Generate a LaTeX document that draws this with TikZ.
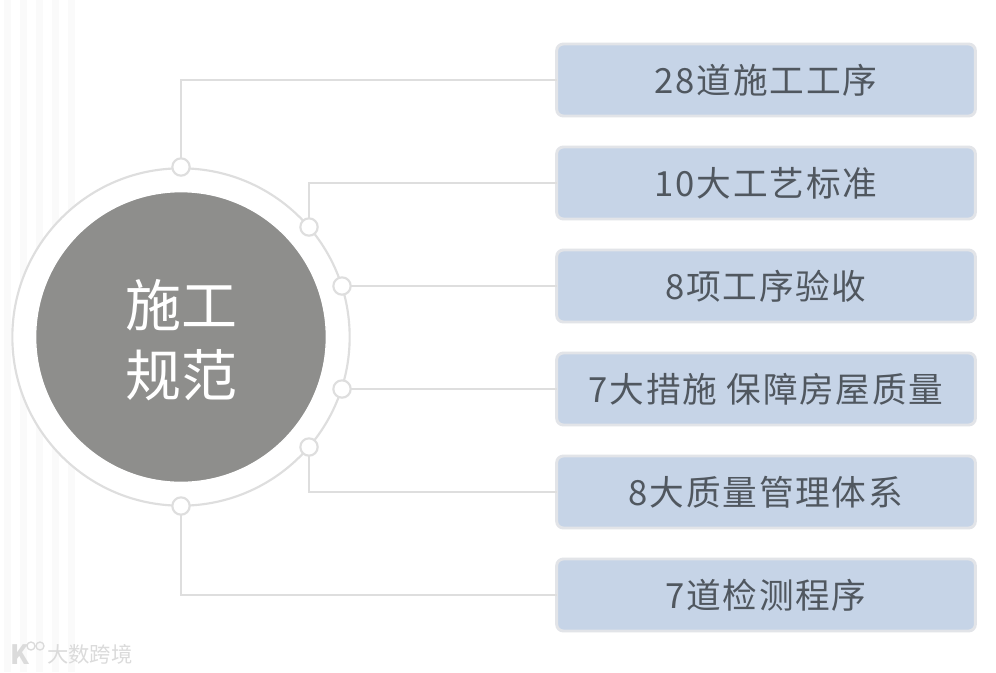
\documentclass[tikz,border=0pt]{standalone}
\usepackage{fontspec}
\setmainfont{Noto Sans CJK SC}
\usetikzlibrary{calc}
\definecolor{linegray}{HTML}{DEDEDE}
\definecolor{boxblue}{HTML}{C6D4E7}
\definecolor{boxedge}{HTML}{E2E4E8}
\definecolor{textgray}{HTML}{50575F}
\definecolor{coregray}{HTML}{8E8E8C}

\begin{document}
\begin{tikzpicture}[x=0.75pt,y=-0.75pt,every node/.style={outer sep=0pt,inner sep=0pt}]

\tikzstyle{stepbox}=[draw=boxedge,line width=2.2pt,fill=boxblue,rounded corners=5pt,minimum width=314pt,minimum height=54pt,text=textgray,font=\fontsize{26}{26}\selectfont\addfontfeatures{LetterSpace=5}]
\tikzstyle{dot}=[circle,draw=linegray,line width=1.6pt,fill=white,minimum size=13pt]
\tikzstyle{link}=[draw=linegray,line width=1.3pt]

\useasboundingbox (0,0) rectangle (996,672);
\fill[white] (0,0) rectangle (996,672);

% faint stripes on the left
\foreach \x in {4,20,36,52,68} {
    \fill[gray!4] (\x,0) rectangle ++(7,672);
}

% centre
\node (ring) [circle,draw=linegray,line width=1.6pt,fill=white,minimum size=253pt] at (181,337) {};
\node (core) [circle,fill=coregray,draw=white,line width=1pt,minimum size=218pt] at (181,337) {};
\node (title) [text=white,align=center,font=\fontsize{42}{53}\selectfont] at (181,340) {施工\\规范};

% boxes
\node (box1) [stepbox] at (766,80) {28道施工工序};
\node (box2) [stepbox] at (766,183) {10大工艺标准};
\node (box3) [stepbox] at (766,286) {8项工序验收};
\node (box4) [stepbox] at (766,389) {7大措施 保障房屋质量};
\node (box5) [stepbox] at (766,492) {8大质量管理体系};
\node (box6) [stepbox] at (766,595) {7道检测程序};

% dots on the ring
\node (dot1) [dot] at (181,167) {};
\node (dot2) [dot] at (309,227) {};
\node (dot3) [dot] at (342,286) {};
\node (dot4) [dot] at (342,389) {};
\node (dot5) [dot] at (309,447) {};
\node (dot6) [dot] at (181,506) {};

% connectors
\draw[link] (dot1.north) |- (box1.west);
\draw[link] (dot2.north) |- (box2.west);
\draw[link] (dot3.east) -- (box3.west);
\draw[link] (dot4.east) -- (box4.west);
\draw[link] (dot5.south) |- (box5.west);
\draw[link] (dot6.south) |- (box6.west);

% watermark
\node (mark) [text=gray!28,font=\fontsize{16}{16}\selectfont,anchor=west] at (47,654) {大数跨境};
\node (logoK) [text=gray!28,font=\bfseries\fontsize{20}{20}\selectfont] at (20,655) {K};
\node (logoA) [circle,draw=gray!28,line width=1pt,minimum size=6pt] at (31,646) {};
\node (logoB) [circle,draw=gray!28,line width=1pt,minimum size=6pt] at (40,646) {};
\end{tikzpicture}
\end{document}
